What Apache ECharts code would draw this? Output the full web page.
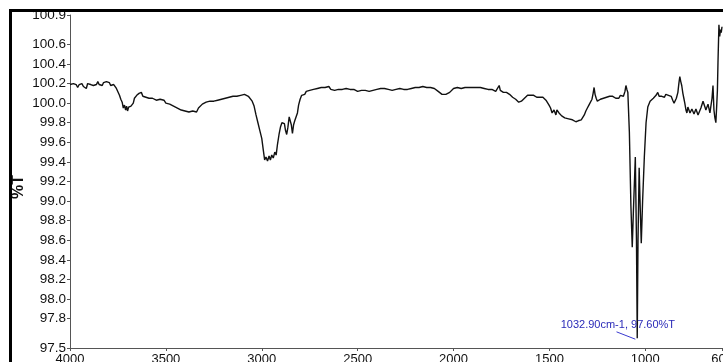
<!DOCTYPE html>
<html>
<head>
<meta charset="utf-8">
<script src="https://cdn.jsdelivr.net/npm/echarts@6/dist/echarts.min.js"></script>
<style>
html,body{margin:0;padding:0;background:#fff;}
#chart{width:723px;height:362px;}
</style>
</head>
<body>
<div id="chart"></div>
<script>
const wavenumbers = [
4000,3990,3982,3975,3968,3960,3952,3945,3938,3930,3922,3915,3908,3900,3892,3885,3878,3870,3862,3855,3848,3840,3832,3825,3818,3810,3802,3795,3788,3780,3772,3765,3758,3750,3742,3735,3728,3722,3716,3710,3705,3700,3694,3688,3682,3676,3670,3664,3658,3652,3646,3640,3634,3628,3620,3612,3604,3596,3588,3580,3570,3560,3550,3540,3530,3520,3510,3500,3490,3480,3470,3460,3450,3440,3430,3420,3410,3400,3390,3380,3370,3360,3350,3340,3330,3320,3310,3300,3290,3280,3270,3260,3250,3240,3230,3220,3210,3200,3190,3180,3170,3160,3150,3140,3130,3120,3110,3100,3090,3080,3070,3060,3050,3040,3030,3020,3010,3000,2992,2985,2978,2970,2962,2955,2948,2940,2932,2925,2918,2910,2902,2895,2888,2882,2876,2870,2864,2857,2851,2846,2840,2834,2828,2820,2814,2808,2800,2792,2784,2776,2768,2760,2750,2740,2730,2720,2710,2700,2690,2680,2670,2660,2650,2640,2630,2620,2610,2600,2590,2580,2570,2560,2550,2540,2530,2520,2510,2500,2490,2480,2470,2460,2450,2440,2430,2420,2410,2400,2390,2380,2370,2360,2350,2340,2330,2320,2310,2300,2290,2280,2270,2260,2250,2240,2230,2220,2210,2200,2190,2180,2170,2160,2150,2140,2130,2120,2110,2100,2090,2080,2070,2060,2050,2040,2030,2020,2010,2000,1990,1980,1970,1960,1950,1940,1930,1920,1910,1900,1890,1880,1870,1860,1850,1840,1830,1820,1810,1800,1790,1780,1770,1762,1756,1748,1740,1732,1724,1716,1708,1700,1692,1684,1676,1668,1660,1654,1646,1638,1630,1622,1614,1606,1598,1590,1582,1574,1566,1558,1550,1542,1534,1526,1518,1510,1502,1494,1486,1482,1476,1471,1466,1461,1456,1450,1444,1436,1428,1420,1410,1400,1390,1380,1370,1362,1356,1350,1342,1334,1326,1318,1310,1302,1294,1286,1278,1272,1267,1262,1256,1250,1242,1234,1226,1218,1210,1202,1194,1186,1178,1170,1162,1154,1146,1138,1130,1122,1114,1106,1101,1096,1091,1083,1075,1068,1062,1052,1046,1042,1038,1032,1026,1021,1014,1005,996,987,975,966,958,951,944,935,928,921,914,907,900,893,886,879,872,865,857,850,846,838,830,825,820,815,810,804,799,794,788,783,778,773,767,762,757,752,746,741,736,731,725,720,715,710,705,699,694,689,684,679,673,668,663,658,652,647,642,637,632,627,624,621,616,612,608,604,600
];
const transmittance = [
100.19,100.17,100.20,100.18,100.19,100.16,100.19,100.18,100.20,100.17,100.19,100.15,100.20,100.18,100.19,100.21,100.18,100.20,100.19,100.22,100.19,100.20,100.18,100.21,100.19,100.22,100.20,100.21,100.18,100.20,100.19,100.17,100.15,100.13,100.08,100.04,100.01,99.95,99.98,99.93,99.97,99.92,99.96,99.94,99.97,99.95,100.00,100.05,100.04,100.08,100.06,100.10,100.08,100.11,100.07,100.09,100.06,100.08,100.05,100.07,100.05,100.06,100.03,100.05,100.04,100.02,100.03,100.00,100.01,99.99,100.00,99.97,99.98,99.95,99.96,99.93,99.95,99.92,99.94,99.91,99.93,99.92,99.94,99.91,99.95,99.97,99.99,99.98,100.01,99.99,100.02,100.00,100.02,100.01,100.03,100.02,100.04,100.03,100.05,100.04,100.06,100.05,100.07,100.08,100.07,100.09,100.08,100.10,100.09,100.08,100.07,100.05,100.02,99.97,99.88,99.80,99.72,99.64,99.52,99.42,99.45,99.41,99.46,99.42,99.47,99.44,99.50,99.47,99.58,99.68,99.76,99.80,99.82,99.79,99.72,99.68,99.75,99.86,99.88,99.78,99.69,99.78,99.82,99.83,99.90,99.98,100.04,100.08,100.10,100.09,100.12,100.11,100.13,100.12,100.14,100.13,100.15,100.14,100.16,100.14,100.16,100.15,100.17,100.14,100.15,100.13,100.15,100.14,100.12,100.14,100.13,100.15,100.13,100.14,100.12,100.14,100.13,100.12,100.14,100.13,100.15,100.13,100.14,100.12,100.14,100.13,100.15,100.14,100.16,100.15,100.17,100.15,100.16,100.14,100.15,100.13,100.15,100.14,100.13,100.15,100.13,100.14,100.12,100.14,100.13,100.15,100.14,100.16,100.15,100.16,100.15,100.17,100.15,100.16,100.15,100.16,100.14,100.15,100.13,100.12,100.10,100.09,100.08,100.09,100.10,100.11,100.13,100.15,100.17,100.16,100.17,100.15,100.16,100.16,100.15,100.16,100.15,100.16,100.15,100.16,100.15,100.16,100.14,100.15,100.14,100.14,100.13,100.14,100.13,100.12,100.13,100.18,100.13,100.12,100.11,100.10,100.11,100.09,100.09,100.07,100.06,100.05,100.04,100.02,100.01,100.00,100.02,100.03,100.05,100.07,100.08,100.07,100.08,100.07,100.08,100.07,100.06,100.07,100.06,100.05,100.06,100.04,100.03,100.01,99.98,99.95,99.90,99.88,99.93,99.92,99.88,99.93,99.92,99.90,99.89,99.87,99.86,99.85,99.84,99.84,99.83,99.83,99.82,99.81,99.80,99.82,99.81,99.83,99.85,99.88,99.92,99.95,99.98,100.00,100.04,100.10,100.16,100.09,100.05,100.02,100.03,100.04,100.03,100.05,100.04,100.06,100.05,100.07,100.06,100.07,100.06,100.05,100.06,100.05,100.08,100.09,100.07,100.12,100.18,100.14,100.11,99.70,98.95,98.53,98.90,99.45,98.60,97.60,98.60,99.34,98.90,98.57,99.00,99.45,99.80,99.96,100.02,100.03,100.05,100.06,100.08,100.11,100.07,100.09,100.07,100.09,100.06,100.09,100.07,100.08,100.06,100.07,100.03,100.00,99.98,100.05,100.11,100.20,100.27,100.22,100.18,100.10,100.05,100.00,99.93,99.90,99.96,99.98,99.90,99.89,99.94,99.95,99.89,99.88,99.94,99.93,99.88,99.90,99.89,99.95,99.95,100.02,100.03,99.96,99.93,99.93,99.99,99.99,99.90,99.88,100.05,100.18,99.93,99.85,99.80,100.00,100.13,100.41,100.80,100.68,100.75,100.72,100.78
];
const yTickValues = [97.5,97.8,98.0,98.2,98.4,98.6,98.8,99.0,99.2,99.4,99.6,99.8,100.0,100.2,100.4,100.6,100.9];
const xTickValues = [4000,3500,3000,2500,2000,1500,1000,600];
const peakLabel = '1032.90cm-1, 97.60%T';
const peakLabelAt = [1143, 97.735];
const peakLeader = [[1150, 97.665], [1052, 97.59]];
const yTitle = '%T';

const seriesData = wavenumbers.map((w, i) => [w, transmittance[i]]);

const chart = echarts.init(document.getElementById('chart'), null, {renderer: 'canvas'});
const font = 'Liberation Sans, Arial, sans-serif';
chart.setOption({
  animation: false,
  backgroundColor: '#fff',
  grid: {left: 70, right: 1, top: 15, bottom: 14, containLabel: false, outerBoundsMode: 'none'},
  xAxis: {
    type: 'value', min: 600, max: 4000, inverse: true,
    axisLine: {show: true, lineStyle: {color: '#555', width: 1}},
    axisTick: {show: true, length: 3, inside: false, customValues: xTickValues, lineStyle: {color: '#555'}},
    axisLabel: {customValues: xTickValues, color: '#111', fontFamily: font, fontSize: 13, margin: 5,
      showMinLabel: true, showMaxLabel: true, hideOverlap: false, formatter: v => String(v)},
    splitLine: {show: false}
  },
  yAxis: {
    type: 'value', min: 97.5, max: 100.9,
    axisLine: {show: true, lineStyle: {color: '#555', width: 1}},
    axisTick: {show: true, length: 3, customValues: yTickValues, lineStyle: {color: '#555'}},
    axisLabel: {customValues: yTickValues, color: '#111', fontFamily: font, fontSize: 13.5, margin: 4,
      hideOverlap: false, formatter: v => v.toFixed(1)},
    splitLine: {show: false}
  },
  graphic: [
    {type: 'line', shape: {x1: 10.5, y1: 9, x2: 10.5, y2: 362}, style: {stroke: '#000', lineWidth: 3}, z: 100},
    {type: 'line', shape: {x1: 9, y1: 10.5, x2: 723, y2: 10.5}, style: {stroke: '#000', lineWidth: 3}, z: 100},
    {type: 'text', x: 19, y: 187, rotation: Math.PI / 2,
      style: {text: yTitle, fill: '#111', font: 'bold 16px ' + font, textAlign: 'center', textVerticalAlign: 'middle'}}
  ],
  series: [{
    type: 'line',
    data: seriesData,
    showSymbol: false,
    symbol: 'none',
    lineStyle: {color: '#111', width: 1.4},
    clip: true,
    markLine: {
      silent: true, symbol: 'none',
      lineStyle: {color: '#3a3ad0', width: 1, type: 'solid'},
      label: {show: false},
      data: [[{coord: peakLeader[0]}, {coord: peakLeader[1]}]]
    },
    markPoint: {
      silent: true,
      symbol: 'circle', symbolSize: 1,
      itemStyle: {color: 'rgba(0,0,0,0)'},
      label: {show: true, position: 'inside', formatter: peakLabel, color: '#2a2ab8', fontFamily: font, fontSize: 11},
      data: [{coord: peakLabelAt}]
    }
  }]
});
</script>
</body>
</html>
